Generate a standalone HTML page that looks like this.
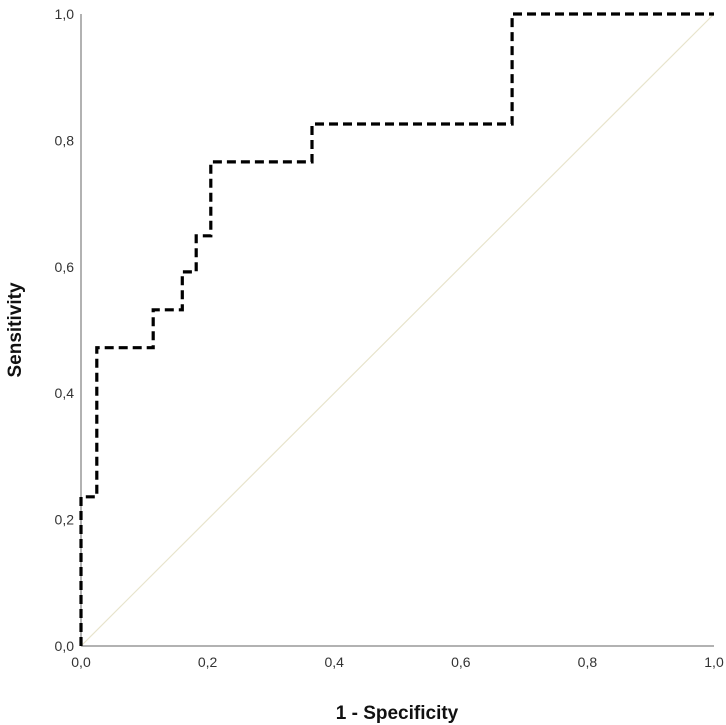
<!DOCTYPE html>
<html><head><meta charset="utf-8"><style>
body{margin:0;background:#fff}
svg{display:block;font-family:"Liberation Sans",Arial,sans-serif}
</style></head><body>
<svg id="chart" width="726" height="725" viewBox="0 0 726 725">
<g id="axes"></g>
<g id="marks"></g>
</svg>
<script>
const fprPoints=[0,0,0.025,0.025,0.114,0.114,0.160,0.160,0.182,0.182,0.205,0.205,0.365,0.365,0.681,0.681,1.0];
const tprPoints=[0,0.236,0.236,0.472,0.472,0.532,0.532,0.592,0.592,0.649,0.649,0.766,0.766,0.826,0.826,1.0,1.0];
const tickValues=[0,0.2,0.4,0.6,0.8,1.0];
const tickLabels=["0,0","0,2","0,4","0,6","0,8","1,0"];
const x0=81,x1=714,y0=646,y1=14;
const sx=v=>x0+v*(x1-x0);
const sy=v=>y0-v*(y0-y1);
const NS="http://www.w3.org/2000/svg";
const axes=document.getElementById('axes'),marks=document.getElementById('marks');
function mk(tag,attrs,parent,text){const e=document.createElementNS(NS,tag);for(const k in attrs)e.setAttribute(k,attrs[k]);if(text!==undefined)e.textContent=text;parent.appendChild(e);return e;}
let e;
e=mk('line',{x1:x0,y1:y1,x2:x0,y2:y0,stroke:'#999','stroke-width':1.5},axes);


e=mk('line',{x1:x0,y1:y0,x2:x1,y2:y0,stroke:'#999','stroke-width':1.5},axes);


tickValues.forEach((v,i)=>{
  e=mk('text',{x:x0-7,y:sy(v)+5,'text-anchor':'end','font-size':14,fill:'#333'},axes,tickLabels[i]);
  
  
  e=mk('text',{x:sx(v),y:y0+21,'text-anchor':'middle','font-size':14,fill:'#333'},axes,tickLabels[i]);
  
  
});
e=mk('text',{x:397,y:719,'text-anchor':'middle','font-size':19,'font-weight':'bold',fill:'#111'},axes,'1 - Specificity');


e=mk('text',{x:21,y:330,'text-anchor':'middle','font-size':19,'font-weight':'bold',fill:'#111',transform:'rotate(-90 21 330)'},axes,'Sensitivity');


e=mk('line',{x1:sx(0),y1:sy(0),x2:sx(1),y2:sy(1),stroke:'#e8e4cc','stroke-width':1.2},marks);


const d=fprPoints.map((f,i)=>(i?'L':'M')+sx(f).toFixed(1)+','+sy(tprPoints[i]).toFixed(1)).join(' ');
e=mk('path',{d:d,fill:'none',stroke:'#000','stroke-width':3.2,'stroke-dasharray':'9,5'},marks);


</script>
</body></html>
